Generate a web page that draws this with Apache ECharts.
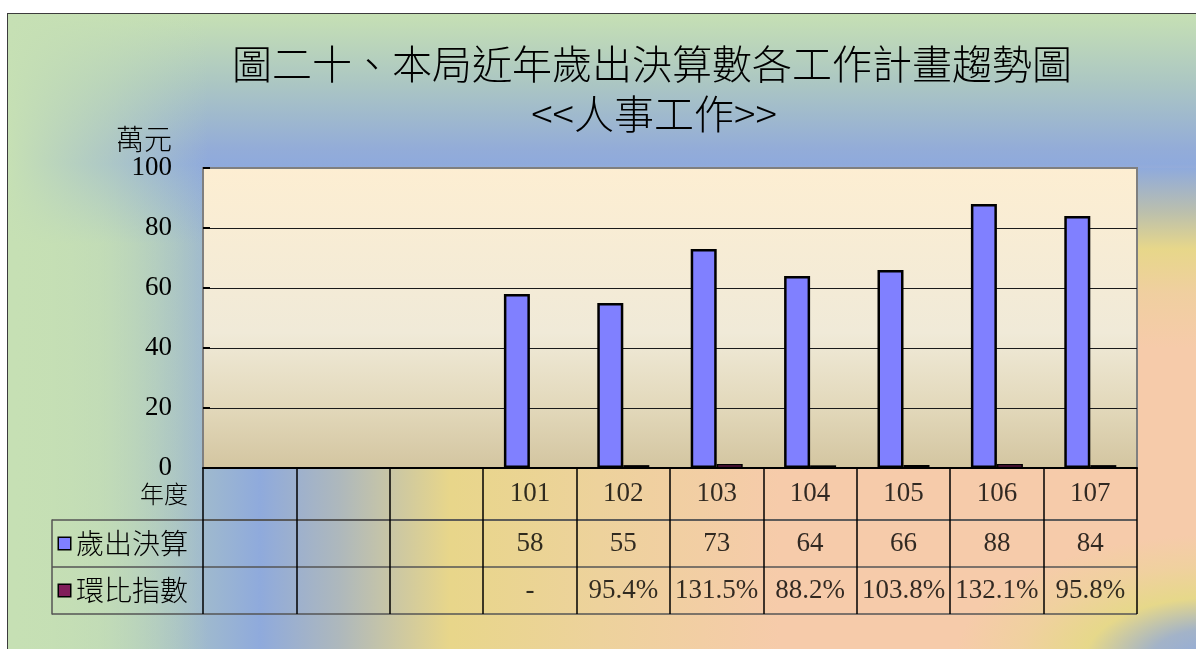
<!DOCTYPE html>
<html><head><meta charset="utf-8">
<script src="https://cdn.jsdelivr.net/npm/echarts@6/dist/echarts.min.js"></script>
<style>
html,body{margin:0;padding:0;background:#fff;width:1196px;height:649px;overflow:hidden}
#frame{position:absolute;left:7px;top:13px;width:1260px;height:700px;border:1.5px solid #3c3c3c;box-sizing:border-box;
background:
 radial-gradient(260px 125px at 1207px 646px, #8FAADC 0%, #A3B3C8 25%, #E6D88A 50%, rgba(237,211,154,0.7) 75%, rgba(237,211,154,0) 100%),
 linear-gradient(to bottom, #8FAADC 0%, #BCC0AC 25%, #E7D78A 45%, #F0CFA0 70%, rgba(246,203,170,0) 100%) 1129px 154px / 70px 180px no-repeat,
 linear-gradient(to right, rgba(198,224,180,1) 0px, rgba(198,224,180,0.55) 100px, rgba(198,224,180,0) 200px),
 linear-gradient(to bottom, #C6E0B4 0px, #ABC6C3 70px, #93ACD8 135px, #8FAADC 150px, rgba(143,170,220,0) 230px),
 linear-gradient(to right, #C6E0B4 0px, #BCD6BA 92px, #A6C0C8 172px, #8FAADC 252px, #AEB8BC 332px, #E8D68A 442px, #EDD29C 592px, #F6CBAA 772px, #F6CBAA 1260px);
}
#chart{position:absolute;left:0;top:0;width:1196px;height:649px}
</style></head><body>
<div id="frame"></div><div id="chart"></div>
<script>
// ---- data ----
const titleText = '圖二十、本局近年歲出決算數各工作計畫趨勢圖';
const subtitleText = '<<人事工作>>';
const unitName = '萬元';
const rowHeader = '年度';
const years = ['101', '102', '103', '104', '105', '106', '107'];
const emptyColumns = [' ', '  ', '   '];
const seriesNames = ['歲出決算', '環比指數'];
const budget = [58, 55, 73, 64, 66, 88, 84];
const ratio = [null, 0.954, 1.315, 0.882, 1.038, 1.321, 0.958];
const yMin = 0, yMax = 100, yStep = 20;

// ---- derived ----
const categories = emptyColumns.concat(years);
const offset = emptyColumns.length;
const pad = arr => emptyColumns.map(() => null).concat(arr);
const yearRow = years.map((y, i) => [i + offset, 0, y]);
const valueRows = budget.map((v, i) => [i + offset, 0, String(v)])
  .concat(ratio.map((r, i) => [i + offset, 1, r == null ? '-' : (r * 100).toFixed(1) + '%']));

const SERIF = 'Liberation Serif';
const CJK = 'Noto Sans CJK TC';
const colors = ['#8080FF', '#801E5A'];

const chart = echarts.init(document.getElementById('chart'), null, {renderer: 'canvas'});
const tableX = (gi) => ({
  gridIndex: gi, type: 'category', data: categories,
  axisLine: {show: false}, axisTick: {show: false}, axisLabel: {show: false},
  splitLine: {show: true, lineStyle: {color: '#000', width: 1.5}}
});
chart.setOption({
  backgroundColor: 'transparent',
  animation: false,
  graphic: [
    {type: 'text', x: 652, y: 64, silent: true,
     style: {text: titleText, fontSize: 40, fontWeight: 300, fontFamily: CJK, fill: '#000', align: 'center', verticalAlign: 'middle'}},
    {type: 'text', x: 654, y: 114, silent: true,
     style: {text: subtitleText, fontSize: 40, fontWeight: 300, fontFamily: CJK, fill: '#000', align: 'center', verticalAlign: 'middle'}}
  ],
  grid: [
    {left: 203, top: 168, width: 934, height: 300, show: true, outerBoundsMode: 'none',
     borderColor: '#7f7f7f', borderWidth: 2,
     backgroundColor: {type: 'linear', x: 0, y: 0, x2: 0, y2: 1, colorStops: [
       {offset: 0, color: '#FDEED2'}, {offset: 0.55, color: '#F0EAD8'},
       {offset: 0.8, color: '#E2D8BA'}, {offset: 1, color: '#D3C5A0'}]}},
    {left: 203, top: 468, width: 934, height: 52, outerBoundsMode: 'none'},
    {left: 203, top: 520, width: 934, height: 94, outerBoundsMode: 'none'},
    {left: 52, top: 520, width: 151, height: 94, outerBoundsMode: 'none'}
  ],
  xAxis: [
    {gridIndex: 0, type: 'category', data: categories, z: 5,
     axisLine: {show: true, lineStyle: {color: '#000', width: 2}},
     axisTick: {show: false}, axisLabel: {show: false}, splitLine: {show: false}},
    tableX(1), tableX(2),
    {gridIndex: 3, type: 'value', show: false}
  ],
  yAxis: [
    {gridIndex: 0, type: 'value', min: yMin, max: yMax, interval: yStep,
     name: unitName, nameLocation: 'end', nameGap: 15,
     nameTextStyle: {fontFamily: CJK, fontSize: 28, fontWeight: 300, color: '#000', align: 'right', padding: [0, 31, 0, 0]},
     axisLine: {show: false},
     axisTick: {show: true, inside: true, length: 7, lineStyle: {color: '#000', width: 2}},
     axisLabel: {fontFamily: SERIF, fontSize: 27, color: '#000', margin: 31},
     splitLine: {show: true, showMaxLine: false, showMinLine: false, lineStyle: {color: '#1a1a1a', width: 1}}},
    {gridIndex: 1, type: 'category', data: [rowHeader],
     axisLine: {show: false}, axisTick: {show: false},
     axisLabel: {fontFamily: CJK, fontSize: 24, fontWeight: 300, color: '#000', margin: 15},
     splitLine: {show: true, lineStyle: {color: '#555', width: 1.5}}},
    {gridIndex: 2, type: 'category', data: seriesNames, inverse: true,
     axisLine: {show: false}, axisTick: {show: false}, axisLabel: {show: false},
     splitLine: {show: true, lineStyle: {color: '#555', width: 1.5}}},
    {gridIndex: 3, type: 'category', data: seriesNames, inverse: true,
     axisLine: {show: true, lineStyle: {color: '#555', width: 1.5}}, axisTick: {show: false},
     axisLabel: {inside: true, margin: 7, color: '#000',
       formatter: (v, i) => '{k' + i + '|}{t|' + v + '}',
       rich: {
         k0: {width: 11, height: 11, backgroundColor: colors[0], borderColor: '#000', borderWidth: 1.5},
         k1: {width: 11, height: 11, backgroundColor: colors[1], borderColor: '#000', borderWidth: 1.5},
         t: {fontFamily: CJK, fontSize: 28, fontWeight: 300, color: '#000', padding: [0, 0, 0, 6]}
       }},
     splitLine: {show: true, lineStyle: {color: '#555', width: 1.5}}}
  ],
  series: [
    {name: seriesNames[0], type: 'bar', xAxisIndex: 0, yAxisIndex: 0, data: pad(budget),
     barWidth: 26, barGap: '0%', silent: true,
     itemStyle: {color: colors[0], borderColor: '#000', borderWidth: 2.5}},
    {name: seriesNames[1], type: 'bar', xAxisIndex: 0, yAxisIndex: 0, data: pad(ratio),
     barWidth: 26, barGap: '0%', silent: true,
     itemStyle: {color: colors[1], borderColor: '#000', borderWidth: 1.5}},
    {type: 'scatter', xAxisIndex: 1, yAxisIndex: 1, data: yearRow, symbol: 'rect', symbolSize: 1, silent: true,
     itemStyle: {color: 'rgba(0,0,0,0)'},
     label: {show: true, position: 'inside', formatter: p => p.value[2], fontFamily: SERIF, fontSize: 27, color: '#000'}},
    {type: 'scatter', xAxisIndex: 2, yAxisIndex: 2, data: valueRows, symbol: 'rect', symbolSize: 1, silent: true,
     itemStyle: {color: 'rgba(0,0,0,0)'},
     label: {show: true, position: 'inside', formatter: p => p.value[2], fontFamily: SERIF, fontSize: 27, color: '#000'}}
  ]
});
</script>
</body></html>
